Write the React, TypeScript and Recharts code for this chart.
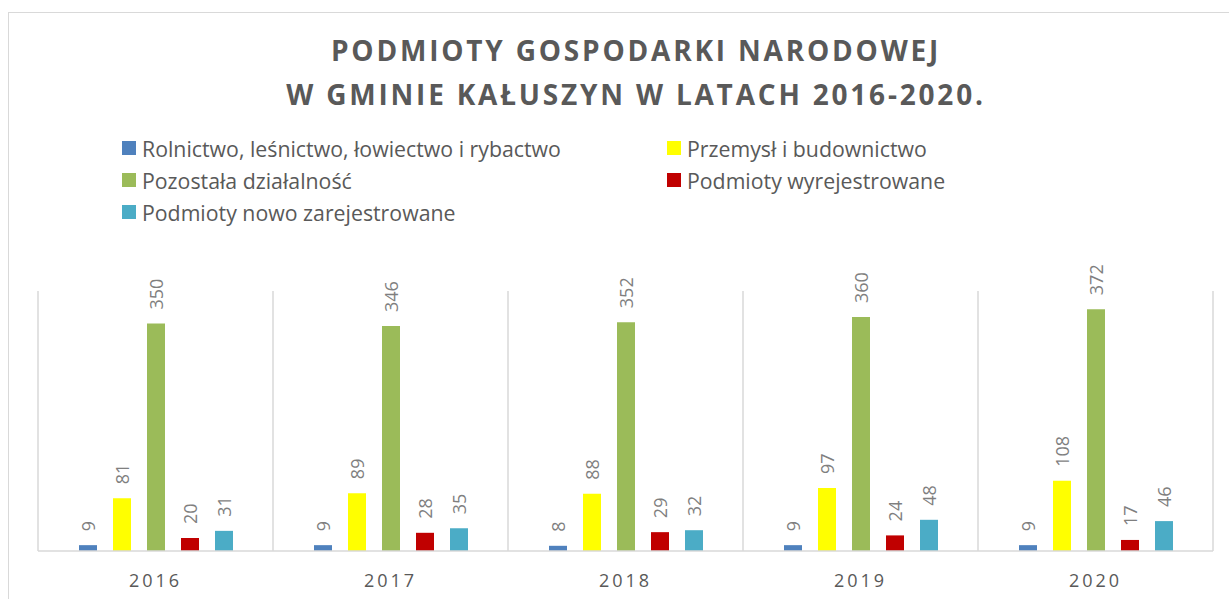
import { BarChart, Bar, XAxis, YAxis, CartesianGrid, LabelList } from "recharts"

const years = ["2016", "2017", "2018", "2019", "2020"]
const rolnictwo = [9, 9, 8, 9, 9]
const przemysl = [81, 89, 88, 97, 108]
const pozostala = [350, 346, 352, 360, 372]
const wyrejestrowane = [20, 28, 29, 24, 17]
const noweRejestracje = [31, 35, 32, 48, 46]

const series = [
  { key: "rol", name: "Rolnictwo, leśnictwo, łowiectwo i rybactwo", color: "#4F81BD", values: rolnictwo },
  { key: "prz", name: "Przemysł i budownictwo", color: "#FFFF00", values: przemysl },
  { key: "poz", name: "Pozostała działalność", color: "#9BBB59", values: pozostala },
  { key: "wyr", name: "Podmioty wyrejestrowane", color: "#C00000", values: wyrejestrowane },
  { key: "now", name: "Podmioty nowo zarejestrowane", color: "#4BACC6", values: noweRejestracje },
]

const data = years.map((year, i) => {
  const row: Record<string, string | number> = { year }
  series.forEach((s) => (row[s.key] = s.values[i]))
  return row
})

const font = "'Open Sans', sans-serif"
const gray = "#595959"

const ValueLabel = (props: any) => {
  const { x, y, width, value } = props
  const cx = x + width / 2
  const cy = y - 14
  return (
    <text
      x={cx}
      y={cy}
      transform={`rotate(-90, ${cx}, ${cy})`}
      textAnchor="start"
      dominantBaseline="central"
      fill="#7f7f7f"
      fontSize={18}
      fontFamily={font}
    >
      {value}
    </text>
  )
}

const YearTick = (props: any) => {
  const { x, y, payload } = props
  return (
    <text x={x} y={y + 27} textAnchor="middle" dominantBaseline="central" fill={gray} fontSize={18} fontFamily={font} letterSpacing={3}>
      {payload.value}
    </text>
  )
}

export default function App() {
  // legend: two columns, filled row by row
  const legendRows = [series.slice(0, 2), series.slice(2, 4), series.slice(4)]
  return (
    <div style={{ position: "absolute", left: 0, top: 0, width: 1229, height: 599, overflow: "hidden", background: "#fff", fontFamily: font }}>
      <div style={{ position: "absolute", left: 8, top: 12, width: 1300, height: 700, border: "1px solid #d9d9d9" }} />
      <div
        style={{
          position: "absolute",
          left: 0,
          top: 28,
          width: 1272,
          textAlign: "center",
          fontSize: 28,
          fontWeight: 700,
          letterSpacing: 2.8,
          lineHeight: "44px",
          color: gray,
        }}
      >
        PODMIOTY GOSPODARKI NARODOWEJ
        <br />W GMINIE KAŁUSZYN W LATACH 2016-2020.
      </div>
      {legendRows.map((row, r) => (
        <div key={r}>
          {row.map((s, c) => (
            <div
              key={s.key}
              style={{
                position: "absolute",
                left: c === 0 ? 122 : 667,
                top: 132 + r * 32,
                height: 32,
                display: "flex",
                alignItems: "center",
                fontSize: 21.3,
                color: gray,
                whiteSpace: "nowrap",
              }}
            >
              <span style={{ width: 14, height: 14, background: s.color, marginRight: 6, display: "inline-block", flexShrink: 0 }} />
              {s.name}
            </div>
          ))}
        </div>
      ))}
      <div style={{ position: "absolute", left: 0, top: 0 }}>
        <BarChart
          width={1229}
          height={599}
          data={data}
          margin={{ top: 291, right: 16, bottom: 18, left: 38 }}
          barSize={18}
          barGap={16}
        >
          <CartesianGrid
            horizontal={false}
            stroke="#d9d9d9"
            strokeWidth={1.5}
            verticalCoordinatesGenerator={({ offset }: any) =>
              years.map((_, i) => offset.left + (i * offset.width) / years.length).concat(offset.left + offset.width)
            }
          />
          <XAxis
            dataKey="year"
            height={30}
            tickLine={false}
            tickSize={0}
            axisLine={{ stroke: "#d9d9d9", strokeWidth: 1.5 }}
            tick={<YearTick />}
            interval={0}
          />
          <YAxis hide domain={[0, 400]} />
          {series.map((s) => (
            <Bar key={s.key} dataKey={s.key} name={s.name} fill={s.color} isAnimationActive={false}>
              <LabelList dataKey={s.key} content={<ValueLabel />} />
            </Bar>
          ))}
        </BarChart>
      </div>
    </div>
  )
}
